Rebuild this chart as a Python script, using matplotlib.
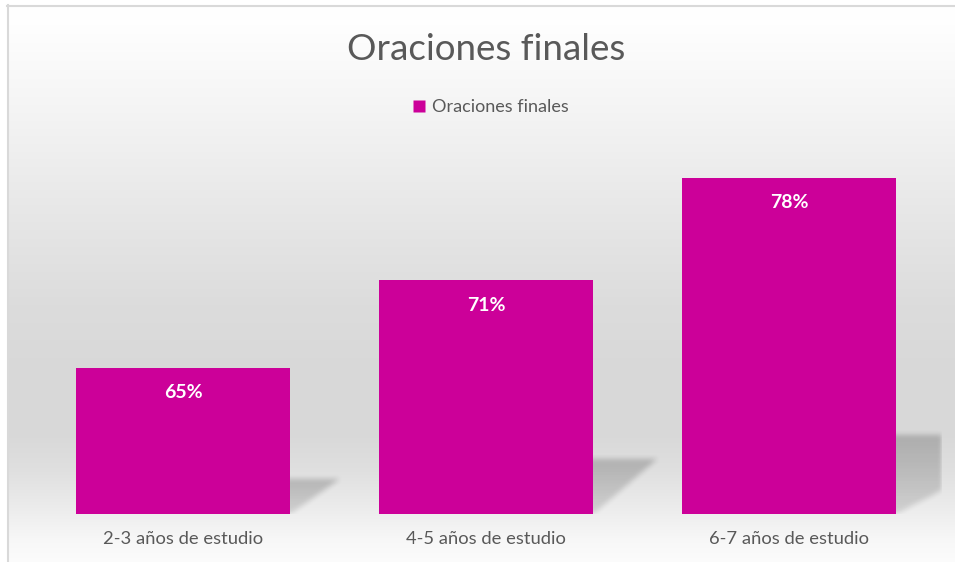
import numpy as np
import matplotlib
matplotlib.use('Agg')
import matplotlib.pyplot as plt
from matplotlib.lines import Line2D

plt.rcParams['font.family'] = ['Lato', 'DejaVu Sans']

# data
categories = ['2-3 años de estudio', '4-5 años de estudio', '6-7 años de estudio']
values = [65, 71, 78]
series_name = 'Oraciones finales'
title = 'Oraciones finales'

bar_color = '#CC0099'
text_color = '#595959'
y_min, y_max = 55, 80

W, H = 955, 562
fig = plt.figure(figsize=(W / 100, H / 100), dpi=100)

# chart area background: vertical gradient white -> gray -> white
bg = fig.add_axes([7 / W, 0, 1 - 7 / W, (H - 5) / H])
stops_y = [0, 20, 100, 200, 300, 370, 433, 467, 500, 533, 557]
stops_v = [255, 254, 245, 232, 220, 216, 217, 224, 235, 247, 252]
rows = np.interp(np.arange(557), stops_y, stops_v) / 255.0
grad = np.repeat(rows[:, None], 2, axis=1)
bg.imshow(np.dstack([grad, grad, grad]), aspect='auto', extent=[0, 1, 0, 1],
          interpolation='bilinear')
bg.axis('off')

# border of chart area
fig.add_artist(Line2D([7 / W, 1], [1 - 5.5 / H, 1 - 5.5 / H], color='#d9d9d9', lw=1.5))
fig.add_artist(Line2D([7.5 / W, 7.5 / W], [0, 1 - 5 / H], color='#d9d9d9', lw=1.5))

# plot area
left, right, top, bottom = 31.5, 941, 148.6, 514
ax = fig.add_axes([left / W, (H - bottom) / H, (right - left) / W, (bottom - top) / H])
ax.set_facecolor('none')
x = np.arange(len(categories))
bar_w = 0.706
ax.set_xlim(-0.5, len(categories) - 0.5)
ax.set_ylim(y_min, y_max)

# blurred perspective shadows to the right of each bar
shadow_dx = [0.16, 0.21, 0.5]
nx, ny = 910, 365
gx = np.linspace(-0.5, len(categories) - 0.5, nx)
gy = np.linspace(y_min, y_max, ny)
GX, GY = np.meshgrid(gx, gy)
mask = np.zeros_like(GX)
for xi, v, dx in zip(x, values, shadow_dx):
    hs = 0.235 * (v - y_min)
    t = (GY - y_min) / hs
    x0 = xi - bar_w / 2 + dx * t
    x1 = xi + bar_w / 2 + dx * t
    inside = (t >= 0) & (t <= 1) & (GX >= x0) & (GX <= x1)
    # darker towards the top edge of the shadow
    mask = np.maximum(mask, np.where(inside, 0.6 + 0.4 * t, 0))


def box_blur(a, k):
    ker = np.ones(k) / k
    a = np.apply_along_axis(lambda r: np.convolve(r, ker, mode='same'), 1, a)
    a = np.apply_along_axis(lambda c: np.convolve(c, ker, mode='same'), 0, a)
    return a


mask = box_blur(box_blur(mask, 7), 5)
shadow = np.zeros((ny, nx, 4))
shadow[..., 3] = mask * 0.2
ax.imshow(shadow, extent=[gx[0], gx[-1], y_min, y_max], origin='lower',
          aspect='auto', zorder=1, interpolation='bilinear')

ax.bar(x, [v - y_min for v in values], bottom=y_min, width=bar_w,
       color=bar_color, zorder=2)

for xi, v in zip(x, values):
    ax.annotate(f'{v}%', (xi, v), xytext=(0, -25), textcoords='offset pixels',
                ha='center', va='center', color='white', fontsize=14,
                fontweight='bold', zorder=3)

ax.set_xticks(x)
ax.set_xticklabels(categories, color=text_color, fontsize=13.2)
ax.tick_params(axis='x', length=0, pad=12)
ax.set_yticks([])
for s in ax.spines.values():
    s.set_visible(False)

fig.text(486 / W, 1 - 50 / H, title, ha='center', va='center',
         fontsize=26.5, color=text_color)

handle = Line2D([], [], marker='s', color='none', markerfacecolor=bar_color,
                markeredgecolor='none', markersize=8)
fig.legend([handle], [series_name], loc='center',
           bbox_to_anchor=(490 / W, 1 - 107 / H), frameon=False,
           fontsize=13, labelcolor=text_color, handlelength=0.8,
           handletextpad=0.3)

fig.savefig('out.png', dpi=100)
